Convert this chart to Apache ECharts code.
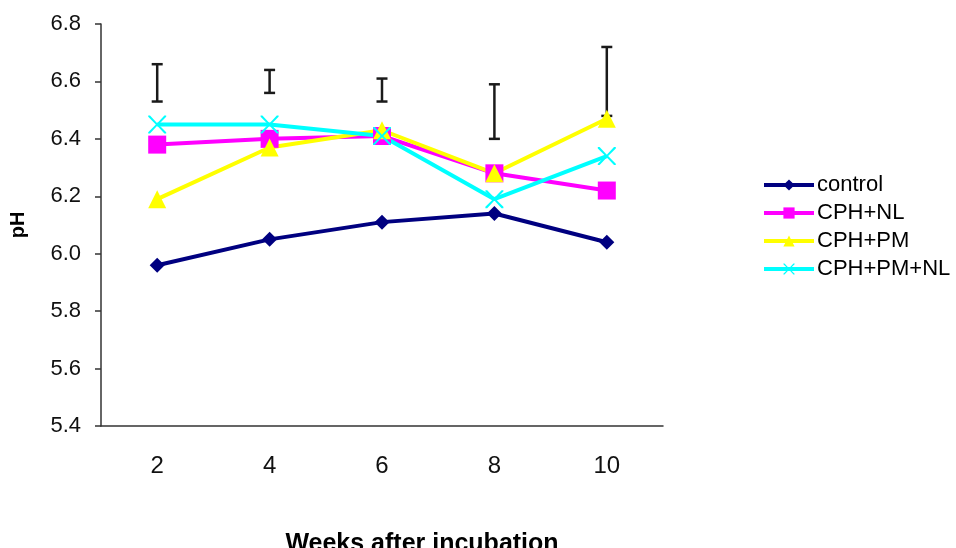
<!DOCTYPE html>
<html>
<head>
<meta charset="utf-8">
<script src="https://cdn.jsdelivr.net/npm/echarts@6/dist/echarts.min.js"></script>
<style>
  html, body { margin: 0; padding: 0; background: #fff; }
  #chart { width: 956px; height: 548px; }
</style>
</head>
<body>
<div id="chart"></div>
<script>
// weeks after incubation
const weeks = ['2', '4', '6', '8', '10'];

// pH values
const control = [5.96, 6.05, 6.11, 6.14, 6.04];
const cphNL = [6.38, 6.40, 6.41, 6.28, 6.22];
const cphPM = [6.19, 6.37, 6.43, 6.28, 6.47];
const cphPMNL = [6.45, 6.45, 6.41, 6.19, 6.34];

// error bars shown above the lines: [low, high]
const errLow = [6.53, 6.56, 6.53, 6.40, 6.48];
const errHigh = [6.66, 6.64, 6.61, 6.59, 6.72];

const crossPath = 'path://M0,0 L2,0 L10,8.5 L18,0 L20,0 L20,1.5 L11.5,10 L20,18.5 L20,20 L18,20 L10,11.5 L2,20 L0,20 L0,18.5 L8.5,10 L0,1.5 Z';

const chart = echarts.init(document.getElementById('chart'));

function line(name, data, color, symbol, size) {
  return {
    name: name,
    type: 'line',
    data: data,
    z: 3,
    symbol: symbol,
    symbolSize: size,
    lineStyle: { color: color, width: 4 },
    itemStyle: { color: color },
    emphasis: { disabled: true }
  };
}

const option = {
  animation: false,
  backgroundColor: '#fff',
  textStyle: { fontFamily: 'Liberation Sans, Arial, sans-serif' },
  grid: { left: 101, right: 293, top: 24, bottom: 122, outerBoundsMode: 'none', containLabel: false },
  legend: {
    orient: 'vertical',
    left: 762,
    top: 174,
    padding: 0,
    itemWidth: 50,
    itemHeight: 14,
    itemGap: 6,
    lineStyle: { width: 4 },
    textStyle: { fontSize: 22, color: '#000', padding: [0, 0, 0, -2] },
    data: ['control', 'CPH+NL', 'CPH+PM', 'CPH+PM+NL']
  },
  xAxis: {
    type: 'category',
    data: weeks,
    name: 'Weeks after incubation',
    nameLocation: 'middle',
    nameGap: 106,
    nameTextStyle: { fontSize: 25, fontWeight: 'bold', color: '#000', padding: [0, 0, 0, 80] },
    axisLine: { lineStyle: { color: '#333', width: 1.5 } },
    axisTick: { length: 6, lineStyle: { color: '#333', width: 1.5 } },
    axisLabel: { fontSize: 24, color: '#111', margin: 28 },
    splitLine: { show: false }
  },
  yAxis: {
    type: 'value',
    min: 5.4,
    max: 6.8,
    interval: 0.2,
    name: 'pH',
    nameLocation: 'middle',
    nameGap: 73,
    nameRotate: 90,
    nameTextStyle: { fontSize: 20, fontWeight: 'bold', color: '#000' },
    axisLine: { show: true, lineStyle: { color: '#333', width: 1.5 } },
    axisTick: { show: true, length: 6, lineStyle: { color: '#333', width: 1.5 } },
    axisLabel: { fontSize: 22, color: '#111', margin: 20, formatter: v => v.toFixed(1) },
    splitLine: { show: false }
  },
  series: [
    {
      type: 'custom',
      name: 'error',
      z: 1,
      data: weeks.map((w, i) => [i, errLow[i], errHigh[i]]),
      renderItem: function (params, api) {
        const lo = api.coord([api.value(0), api.value(1)]);
        const hi = api.coord([api.value(0), api.value(2)]);
        const half = 5.5;
        const style = { stroke: '#1a1a1a', lineWidth: 2.5 };
        return {
          type: 'group',
          children: [
            { type: 'line', shape: { x1: lo[0], y1: lo[1], x2: hi[0], y2: hi[1] }, style: style },
            { type: 'line', shape: { x1: hi[0] - half, y1: hi[1], x2: hi[0] + half, y2: hi[1] }, style: style },
            { type: 'line', shape: { x1: lo[0] - half, y1: lo[1], x2: lo[0] + half, y2: lo[1] }, style: style }
          ]
        };
      }
    },
    line('control', control, '#000080', 'diamond', 15),
    line('CPH+NL', cphNL, '#ff00ff', 'rect', 18),
    line('CPH+PM', cphPM, '#ffff00', 'triangle', 18),
    line('CPH+PM+NL', cphPMNL, '#00ffff', crossPath, 18)
  ]
};

chart.setOption(option);
</script>
</body>
</html>
